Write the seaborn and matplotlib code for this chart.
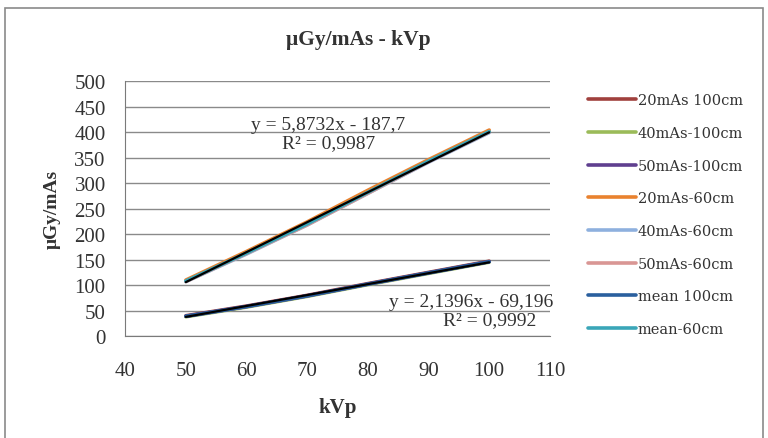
import numpy as np
import pandas as pd
import matplotlib
matplotlib.use("Agg")
import matplotlib.pyplot as plt
import seaborn as sns

# kVp values
kvp = [50, 60, 70, 80, 90, 100]

# dose per mAs (uGy/mAs)
mas20_100 = [40, 59, 80, 103, 125, 147]
mas40_100 = [38, 57, 78, 101, 123, 145]
mas50_100 = [39, 58, 79, 102, 124, 146]
mas20_60 = [110, 166, 224, 286, 346, 404]
mas40_60 = [107, 161, 218, 280, 341, 399]
mas50_60 = [107, 162, 218, 280, 342, 400]
mean_100 = [39, 58, 79, 102, 124, 146]
mean_60 = [108, 163, 220, 282, 343, 401]

series_names = ["20mAs 100cm", "40mAs-100cm", "50mAs-100cm", "20mAs-60cm",
                "40mAs-60cm", "50mAs-60cm", "mean 100cm", "mean-60cm"]
series_values = [mas20_100, mas40_100, mas50_100, mas20_60,
                 mas40_60, mas50_60, mean_100, mean_60]
colors = ["#A0403D", "#9BBB59", "#5F3F8F", "#E9822F",
          "#8EB0DE", "#D99694", "#2A5F9E", "#3AA6B8"]

# linear trendlines shown on the chart
fit_60 = (5.8732, -187.7)
fit_100 = (2.1396, -69.196)

rows = []
for name, vals in zip(series_names, series_values):
  for x, y in zip(kvp, vals):
    rows.append({"kVp": x, "dose": y, "series": name})
df = pd.DataFrame(rows)

sns.set_style("white")
plt.rcParams["font.family"] = ["Liberation Serif", "DejaVu Serif"]

fig = plt.figure(figsize=(7.68, 4.39), dpi=100)
ax = fig.add_axes([0.163, 0.232, 0.553, 0.581])

sns.lineplot(data=df, x="kVp", y="dose", hue="series", hue_order=series_names,
             palette=dict(zip(series_names, colors)), linewidth=2.6, ax=ax,
             legend=True)

# trendlines
xs = np.array([kvp[0], kvp[-1]])
for slope, icpt in (fit_60, fit_100):
  ax.plot(xs, slope * xs + icpt, color="black", linewidth=1.6, zorder=5)

ax.set_xlim(40, 110)
ax.set_ylim(0, 500)
ax.set_xticks(range(40, 111, 10))
ax.set_yticks(range(0, 501, 50))
ax.yaxis.grid(True, color="#8a8a8a", linewidth=1.0)
ax.xaxis.grid(False)
for side in ("top", "right"):
  ax.spines[side].set_visible(False)
for side in ("left", "bottom"):
  ax.spines[side].set_color("#7a7a7a")
ax.tick_params(axis="x", labelsize=15, pad=18, length=0, colors="#333333")
ax.tick_params(axis="y", labelsize=15, pad=14, length=0, colors="#333333")

ax.set_xlabel("kVp", fontsize=15, fontweight="bold", labelpad=12, color="#333333")
ax.set_ylabel("μGy/mAs", fontsize=14, fontweight="bold", labelpad=10, color="#333333")
ax.set_title("μGy/mAs - kVp", fontsize=15.5, fontweight="bold", x=0.548, pad=27,
             color="#333333")

ax.text(73.5, 415, "y = 5,8732x - 187,7", fontsize=14, ha="center", va="center", color="#333333")
ax.text(73.5, 380, "R² = 0,9987", fontsize=14, ha="center", va="center", color="#333333")
ax.text(97.0, 68, "y = 2,1396x - 69,196", fontsize=14, ha="center", va="center", color="#333333")
ax.text(100, 33, "R² = 0,9992", fontsize=14, ha="center", va="center", color="#333333")

leg = ax.legend(loc="upper left", bbox_to_anchor=(1.075, 0.975), frameon=False,
                prop={"family": "DejaVu Serif", "size": 10.5},
                handlelength=3.3, handletextpad=0.15,
                labelspacing=1.28, borderaxespad=0)
for txt in leg.get_texts():
  txt.set_color("#333333")

# outer chart border
fig.patches.append(plt.Rectangle((0.007, -0.01), 0.986, 0.99, transform=fig.transFigure,
                                 fill=False, edgecolor="#8a8a8a", linewidth=1.2))

fig.savefig("out.png", dpi=100)
